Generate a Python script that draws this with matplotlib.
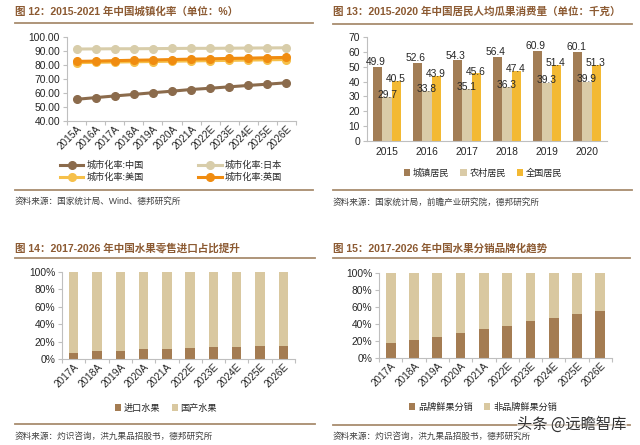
import matplotlib
matplotlib.use("Agg")
import matplotlib.pyplot as plt
import numpy as np

plt.rcParams['font.family'] = ['Liberation Sans', 'Noto Sans CJK SC']

# ---- data ----
years_a = ["2015A", "2016A", "2017A", "2018A", "2019A", "2020A", "2021A",
           "2022E", "2023E", "2024E", "2025E", "2026E"]
urban_cn = [55.5, 56.7, 57.9, 59.0, 60.2, 61.3, 62.5, 63.4, 64.4, 65.4, 66.3, 67.3]
urban_jp = [91.4, 91.5, 91.6, 91.6, 91.7, 91.8, 91.9, 91.9, 92.0, 92.1, 92.2, 92.3]
urban_us = [81.7, 81.9, 82.1, 82.3, 82.5, 82.7, 82.9, 83.1, 83.3, 83.5, 83.7, 83.9]
urban_uk = [82.6, 82.8, 83.1, 83.4, 83.6, 83.9, 84.2, 84.4, 84.7, 84.9, 85.2, 85.4]

melon_years = ["2015", "2016", "2017", "2018", "2019", "2020"]
melon_urban = [49.9, 52.6, 54.3, 56.4, 60.9, 60.1]
melon_rural = [29.7, 33.8, 35.1, 36.3, 39.3, 39.9]
melon_all = [40.5, 43.9, 45.6, 47.4, 51.4, 51.3]

fruit_years = ["2017A", "2018A", "2019A", "2020A", "2021A",
               "2022E", "2023E", "2024E", "2025E", "2026E"]
import_share = [7.0, 9.5, 9.5, 11.0, 12.0, 13.0, 13.5, 14.0, 15.0, 15.5]
brand_share = [18.0, 21.0, 25.0, 30.0, 34.0, 38.0, 43.0, 47.0, 52.0, 55.0]

W, H = 640, 445
fig = plt.figure(figsize=(6.4, 4.45), dpi=100)
fig.patch.set_facecolor("white")

TITLE_C = "#8C5A32"
RULE_C = "#A88C6E"
SPINE_C = "#BFBFBF"
TXT_C = "#262626"


def rect(x0, y0, x1, y1):
    return [x0 / W, 1 - y1 / H, (x1 - x0) / W, (y1 - y0) / H]


def fx(x):
    return x / W


def fy(y):
    return 1 - y / H


def frame(x0, x1, ytitle, yrule, ybottom, ysrc, title, src):
    fig.text(fx(x0), fy(ytitle), title, color=TITLE_C, fontsize=7.6,
             fontweight="bold", va="center", ha="left")
    fig.add_artist(plt.Line2D([fx(x0), fx(x1)], [fy(yrule), fy(yrule)],
                              color=RULE_C, lw=1.3))
    fig.add_artist(plt.Line2D([fx(x0), fx(x1)], [fy(ybottom), fy(ybottom)],
                              color=RULE_C, lw=1.3))
    fig.text(fx(x0), fy(ysrc), src, color="#404040", fontsize=6.2,
             va="center", ha="left")


def style_axes(ax, n):
    for s in ["top", "right"]:
        ax.spines[s].set_visible(False)
    for s in ["left", "bottom"]:
        ax.spines[s].set_color(SPINE_C)
        ax.spines[s].set_linewidth(0.8)
    ax.set_xlim(-0.5, n - 0.5)
    ax.set_xticks(np.arange(n + 1) - 0.5)
    ax.set_xticklabels([])
    ax.tick_params(axis="x", which="major", length=3, color=SPINE_C, direction="out")
    ax.set_xticks(np.arange(n), minor=True)
    ax.tick_params(axis="x", which="minor", length=0, labelsize=7.2, colors=TXT_C, pad=2)
    ax.tick_params(axis="y", length=3, color=SPINE_C, labelsize=7.4, labelcolor=TXT_C, pad=2)


# ---- panel 1: urbanization lines ----
frame(15, 313, 12, 22.5, 190, 201,
      "图 12：2015-2021 年中国城镇化率（单位：%）",
      "资料来源：国家统计局、Wind、德邦研究所")
ax1 = fig.add_axes(rect(67, 37, 296, 121))
x = np.arange(len(years_a))
l_cn, = ax1.plot(x, urban_cn, color="#8B6B4C", lw=2.2, marker="o", ms=5.5, label="城市化率:中国")
l_jp, = ax1.plot(x, urban_jp, color="#D8CDAA", lw=2.2, marker="o", ms=5.5, label="城市化率:日本")
l_us, = ax1.plot(x, urban_us, color="#F6C04A", lw=2.2, marker="o", ms=5.5, label="城市化率:美国")
l_uk, = ax1.plot(x, urban_uk, color="#F08C10", lw=2.2, marker="o", ms=5.5, label="城市化率:英国")
style_axes(ax1, len(years_a))
ax1.set_xticklabels(years_a, minor=True, rotation=45, ha="right", rotation_mode="anchor")
ax1.set_ylim(40, 100)
ax1.set_yticks(np.arange(40, 101, 10))
ax1.set_yticklabels(["%.2f" % v for v in np.arange(40, 101, 10)])
fig.legend(handles=[l_cn, l_us, l_jp, l_uk], ncol=2, frameon=False,
           loc="upper left", bbox_to_anchor=(fx(55), fy(156)), fontsize=6.6,
           handlelength=2.6, handletextpad=0.3, columnspacing=6.0,
           labelspacing=0.3, borderpad=0, labelcolor=TXT_C)

# ---- panel 2: melon consumption bars ----
frame(333, 632, 12, 24, 190, 202,
      "图 13：2015-2020 年中国居民人均瓜果消费量（单位：千克）",
      "资料来源：国家统计局，前瞻产业研究院，德邦研究所")
ax2 = fig.add_axes(rect(367, 37, 607, 141))
xm = np.arange(len(melon_years))
bw = 0.23
c_u, c_r, c_a = "#A27D55", "#DACBA7", "#F3B933"
b_u = ax2.bar(xm - bw, melon_urban, bw, color=c_u, label="城镇居民")
b_r = ax2.bar(xm, melon_rural, bw, color=c_r, label="农村居民")
b_a = ax2.bar(xm + bw, melon_all, bw, color=c_a, label="全国居民")
for i in range(len(xm)):
    ax2.text(xm[i] - bw * 1.2, melon_urban[i] + 3.2, "%.1f" % melon_urban[i],
             ha="center", va="center", fontsize=7.4, color=TXT_C)
    ax2.text(xm[i], melon_rural[i] + 1.5, "%.1f" % melon_rural[i],
             ha="center", va="center", fontsize=7.4, color=TXT_C)
    ax2.text(xm[i] + bw * 0.9, melon_all[i] + 1.0, "%.1f" % melon_all[i],
             ha="center", va="center", fontsize=7.4, color=TXT_C)
for s in ["top", "right"]:
    ax2.spines[s].set_visible(False)
for s in ["left", "bottom"]:
    ax2.spines[s].set_color(SPINE_C)
    ax2.spines[s].set_linewidth(0.8)
ax2.set_xlim(-0.5, len(xm) - 0.5)
ax2.set_xticks(xm)
ax2.set_xticklabels(melon_years)
ax2.tick_params(axis="x", length=0, labelsize=7.4, labelcolor=TXT_C, pad=4)
ax2.tick_params(axis="y", length=3, color=SPINE_C, labelsize=7.4, labelcolor=TXT_C, pad=2)
ax2.set_ylim(0, 70)
ax2.set_yticks(np.arange(0, 71, 10))
fig.legend(handles=[b_u, b_r, b_a], ncol=3, frameon=False, loc="center",
           bbox_to_anchor=(fx(483), fy(173)), fontsize=6.6, handlelength=0.7,
           handleheight=0.7, handletextpad=0.3, columnspacing=1.2,
           borderpad=0, labelcolor=TXT_C)

# ---- panel 3: import share ----
frame(15, 315, 248, 258, 424, 436,
      "图 14：2017-2026 年中国水果零售进口占比提升",
      "资料来源：灼识咨询，洪九果品招股书，德邦研究所")
ax3 = fig.add_axes(rect(62, 272, 295, 359))
xf = np.arange(len(fruit_years))
domestic = [100 - v for v in import_share]
c_dark, c_light = "#A47C52", "#D9C8A0"
p_imp = ax3.bar(xf, import_share, 0.4, color=c_dark, label="进口水果")
p_dom = ax3.bar(xf, domestic, 0.4, bottom=import_share, color=c_light, label="国产水果")
style_axes(ax3, len(fruit_years))
ax3.set_xticklabels(fruit_years, minor=True, rotation=45, ha="right", rotation_mode="anchor")
ax3.set_ylim(0, 100)
ax3.set_yticks(np.arange(0, 101, 20))
ax3.set_yticklabels(["%d%%" % v for v in range(0, 101, 20)])
fig.legend(handles=[p_imp, p_dom], ncol=2, frameon=False, loc="center",
           bbox_to_anchor=(fx(166), fy(408)), fontsize=6.6, handlelength=0.7,
           handleheight=0.7, handletextpad=0.3, columnspacing=1.2,
           borderpad=0, labelcolor=TXT_C)

# ---- panel 4: brand share ----
frame(333, 630, 248, 258, 425, 436,
      "图 15：2017-2026 年中国水果分销品牌化趋势",
      "资料来源：灼识咨询，洪九果品招股书，德邦研究所")
ax4 = fig.add_axes(rect(379, 273, 612, 358))
non_brand = [100 - v for v in brand_share]
p_b = ax4.bar(xf, brand_share, 0.42, color=c_dark, label="品牌鲜果分销")
p_nb = ax4.bar(xf, non_brand, 0.42, bottom=brand_share, color=c_light, label="非品牌鲜果分销")
style_axes(ax4, len(fruit_years))
ax4.set_xticklabels(fruit_years, minor=True, rotation=45, ha="right", rotation_mode="anchor")
ax4.set_ylim(0, 100)
ax4.set_yticks(np.arange(0, 101, 20))
ax4.set_yticklabels(["%d%%" % v for v in range(0, 101, 20)])
fig.legend(handles=[p_b, p_nb], ncol=2, frameon=False, loc="center",
           bbox_to_anchor=(fx(483), fy(407)), fontsize=6.6, handlelength=0.7,
           handleheight=0.7, handletextpad=0.3, columnspacing=1.2,
           borderpad=0, labelcolor=TXT_C)

# watermark
fig.text(fx(572), fy(424), "头条 @远瞻智库", fontsize=11, color="#333333",
         ha="center", va="center", family=["Noto Sans CJK SC"],
         bbox=dict(facecolor="white", edgecolor="none", alpha=0.6, pad=0.5))

fig.savefig("out.png", dpi=100, facecolor="white")
